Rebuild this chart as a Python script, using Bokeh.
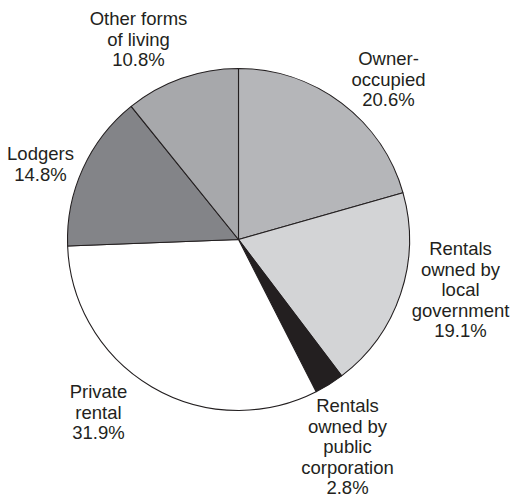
import math
from bokeh.plotting import figure
from bokeh.models import ColumnDataSource
from bokeh.core.properties import value
from bokeh.embed import file_html
from bokeh.resources import INLINE

# Data
categories = ["Owner-occupied", "Rentals owned by local government",
              "Rentals owned by public corporation", "Private rental",
              "Lodgers", "Other forms of living"]
percents = [20.6, 19.1, 2.8, 31.9, 14.8, 10.8]
label_texts = [
    ["Owner-", "occupied", "20.6%"],
    ["Rentals", "owned by", "local", "government", "19.1%"],
    ["Rentals", "owned by", "public", "corporation", "2.8%"],
    ["Private", "rental", "31.9%"],
    ["Lodgers", "14.8%"],
    ["Other forms", "of living", "10.8%"],
]

# Styles / layout
colors = ["#b5b6b9", "#d3d4d6", "#231f20", "#ffffff", "#838488", "#a7a8ab"]
W, H = 511, 499
cx, cy, R = 238, H - 239, 171
label_anchor = [(388, 58), (460, 248), (347, 405), (98, 391), (40, 153), (138, 18)]
line_gap = 20.6

total = sum(percents)
starts, ends = [], []
cum = 0.0
for v in percents:
    a0 = math.pi / 2 - 2 * math.pi * (cum + v) / total
    a1 = math.pi / 2 - 2 * math.pi * cum / total
    starts.append(a0)
    ends.append(a1)
    cum += v

src = ColumnDataSource(dict(cat=categories, val=percents, start=starts, end=ends,
                            color=colors, x=[cx] * len(percents), y=[cy] * len(percents)))

p = figure(width=W, height=H, x_range=(0, W), y_range=(0, H),
           output_backend="svg", toolbar_location=None, min_border=0)
p.axis.visible = False
p.grid.visible = False
p.outline_line_color = None
p.background_fill_color = "white"
p.border_fill_color = "white"

p.wedge(x="x", y="y", radius=R, start_angle="start", end_angle="end",
        direction="anticlock", fill_color="color", line_color="#231f20",
        line_width=1.1, source=src)

tx, ty, tt = [], [], []
for (ax, ay), lines in zip(label_anchor, label_texts):
    for i, t in enumerate(lines):
        tx.append(ax)
        ty.append(H - (ay + i * line_gap))
        tt.append(t)
p.text(x=tx, y=ty, text=tt, text_align="center", text_baseline="middle",
       text_font=value("Liberation Sans"), text_font_size="18.5px",
       text_color="#231f20")

open("out.html", "w").write(file_html(p, INLINE))
